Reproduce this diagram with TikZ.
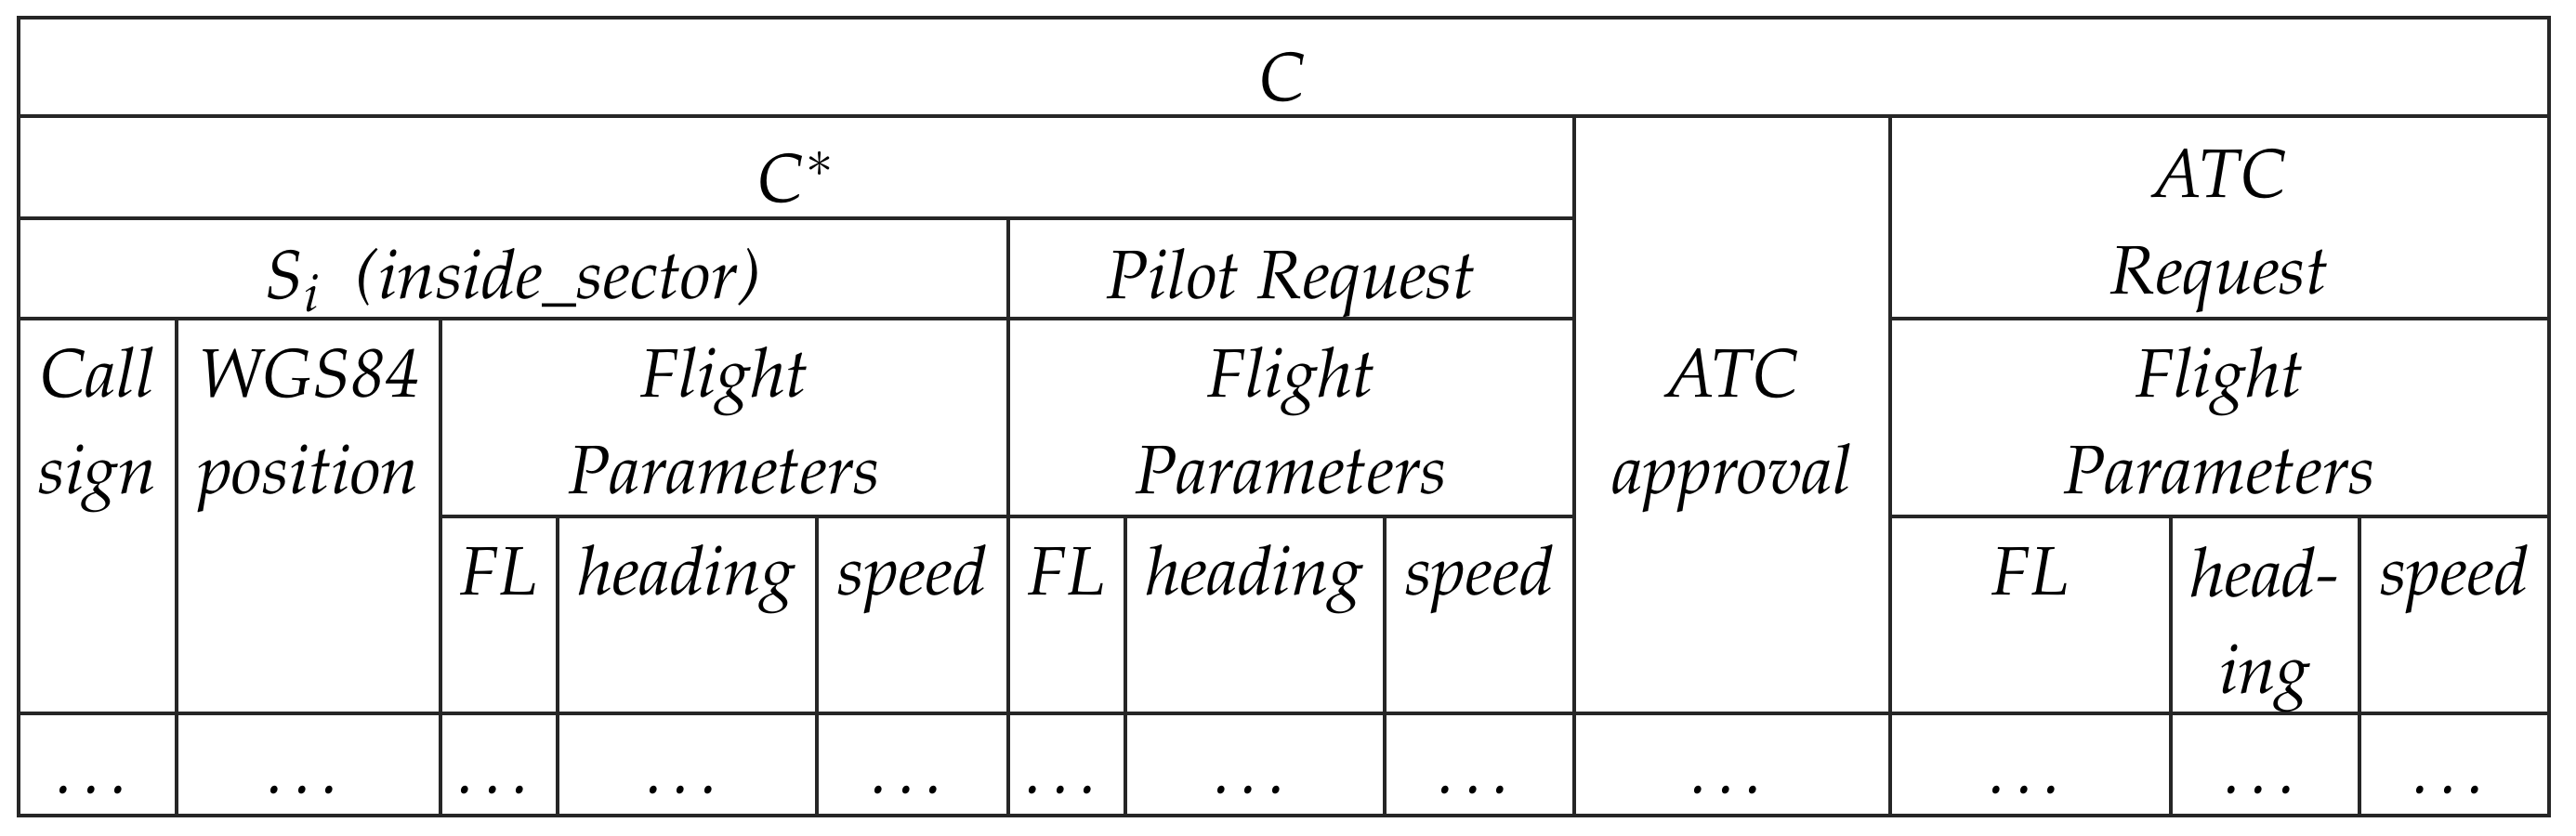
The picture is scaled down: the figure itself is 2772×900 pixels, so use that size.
\documentclass[tikz,border=0pt]{standalone}
\usepackage[T1]{fontenc}
\usepackage{mathpazo}

\tikzset{cell/.style={anchor=base,align=center,inner sep=0pt,
    font=\fontsize{21}{29.5}\selectfont\itshape}}

\begin{document}
\begin{tikzpicture}[x=0.01cm,y=-0.01cm,line width=0.9pt,draw=black!85]
            \useasboundingbox (0,0) rectangle (2772,900);
            \draw (20,19) rectangle (2743,878);
            % rows
            \draw (20,125) -- (2743,125);
            \draw (20,235) -- (1694,235);
            \draw (20,343) -- (1694,343) (2034,343) -- (2743,343);
            \draw (474,556) -- (1694,556) (2034,556) -- (2743,556);
            \draw (20,768) -- (2743,768);
            % columns
            \draw (1694,125) -- (1694,878) (2034,125) -- (2034,878);
            \draw (1085,235) -- (1085,878);
            \draw (190,343) -- (190,878) (474,343) -- (474,878);
            \foreach \x in {600,879,1211,1490,2336,2539}
                \draw (\x,556) -- (\x,878);
            % headers (two-line cells sit on their last line)
            \node [cell] (c) at (1381,108) {$C$};
            \node [cell] (cstar) at (857,217) {$C^*$};
            \node [cell] (sector) at (552,321) {$S_i$~~(inside\_sector)};
            \node [cell] (pilot) at (1389.5,321) {Pilot Request};
            \node [cell] (atcreq) at (2388.5,316) {ATC\\Request};
            \node [cell] (approval) at (1864,531) {ATC\\approval};
            \node [cell] (callsign) at (105,531) {Call\\sign};
            \node [cell] (wgs) at (332,531) {WGS84\\position};
            \node [cell] (flight1) at (779.5,531) {Flight\\Parameters};
            \node [cell] (flight2) at (1389.5,531) {Flight\\Parameters};
            \node [cell] (flight3) at (2388.5,531) {Flight\\Parameters};
            \node [cell] (fl1) at (537,640) {FL};
            \node [cell] (heading1) at (739.5,640) {heading};
            \node [cell] (speed1) at (982,640) {speed};
            \node [cell] (fl2) at (1148,640) {FL};
            \node [cell] (heading2) at (1350.5,640) {heading};
            \node [cell] (speed2) at (1592,640) {speed};
            \node [cell] (fl3) at (2185,640) {FL};
            \node [cell] (heading3) at (2437.5,746) {head-\\ing};
            \node [cell] (speed3) at (2641,640) {speed};
            % data row
            \foreach \x [count=\i] in {105,332,537,739.5,982,1148,1350.5,1592,1864,2185,2437.5,2641}
                \node [cell] (dots\i) at (\x,854) {\dots};
        \end{tikzpicture}
\end{document}
